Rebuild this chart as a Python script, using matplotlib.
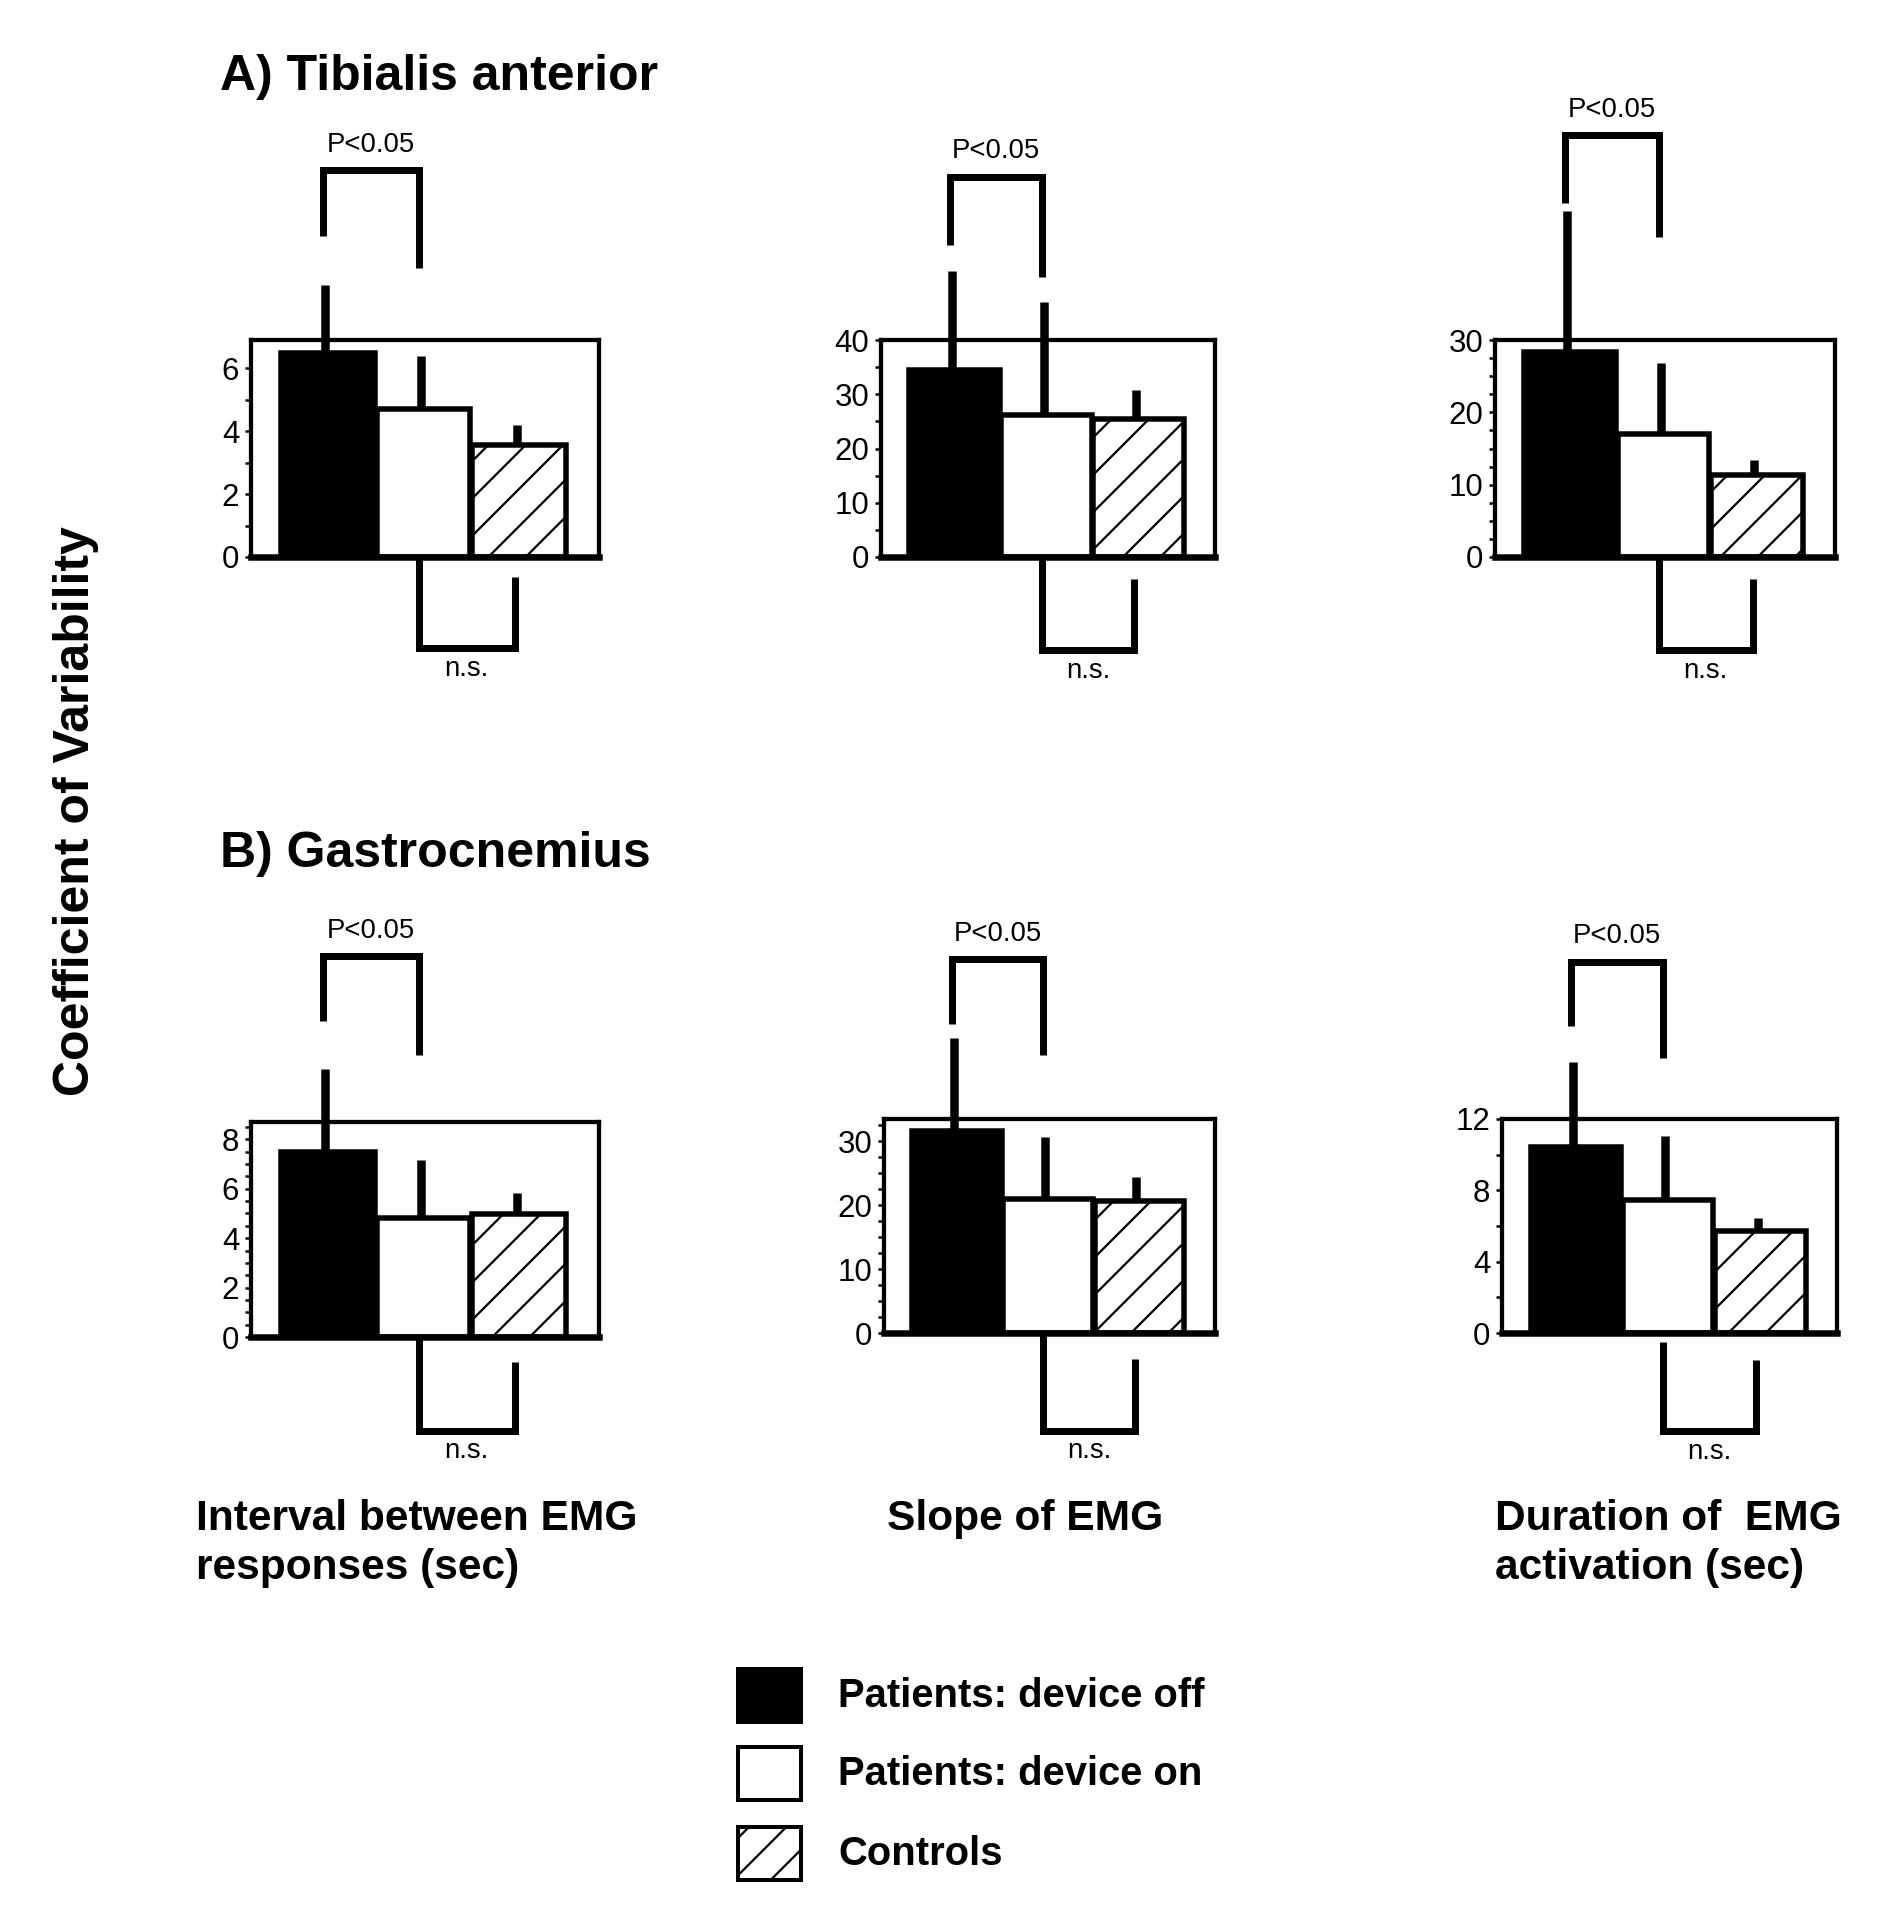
import matplotlib.pyplot as plt
from matplotlib.patches import Rectangle
from matplotlib.ticker import MultipleLocator
import numpy as np

DPI = 224
S = 180 / DPI   # sizes below were tuned at 180 dpi

plt.rcParams['font.family'] = ['Liberation Sans', 'DejaVu Sans']
plt.rcParams['hatch.linewidth'] = 0.9 * S

groups = ['Patients: device off', 'Patients: device on', 'Controls']
measures = ['Interval between EMG\nresponses (sec)', 'Slope of EMG',
            'Duration of  EMG\nactivation (sec)']

# coefficient of variability, mean and upward error
ta_interval = [6.5, 4.7, 3.55]
ta_interval_err = [2.15, 1.7, 0.65]
ta_slope = [34.5, 26.2, 25.4]
ta_slope_err = [18.2, 20.9, 5.3]
ta_duration = [28.4, 17.0, 11.4]
ta_duration_err = [19.4, 9.8, 2.0]

gc_interval = [7.47, 4.8, 4.96]
gc_interval_err = [3.37, 2.37, 0.88]
gc_slope = [31.6, 21.0, 20.6]
gc_slope_err = [14.6, 9.6, 3.8]
gc_duration = [10.44, 7.48, 5.74]
gc_duration_err = [4.76, 3.56, 0.7]

# panel layout: axes rect, y max, major / minor tick step,
# P bracket (top, left end, right end), n.s. bracket (bottom, left end, right end)
panels = [
    (ta_interval, ta_interval_err, [0.1328, 0.7096, 0.1841, 0.1131], 6.9, 2, 1,
     (12.3, 10.2, 9.2), (-2.9, 0, -0.63)),
    (ta_slope, ta_slope_err, [0.4661, 0.7096, 0.1767, 0.1131], 40, 10, 5,
     (70.1, 57.6, 51.7), (-17.2, 0, -4.1)),
    (ta_duration, ta_duration_err, [0.7910, 0.7096, 0.1799, 0.1131], 30, 10, 2.5,
     (58.3, 49.0, 44.3), (-12.9, 0, -3.05)),
    (gc_interval, gc_interval_err, [0.1328, 0.3029, 0.1841, 0.1121], 8.7, 2, 0.5,
     (15.4, 12.8, 11.4), (-3.8, 0, -1.0)),
    (gc_slope, gc_slope_err, [0.4677, 0.3050, 0.1751, 0.1116], 33.5, 10, 2.5,
     (58.5, 48.4, 43.5), (-15.3, 0, -4.1)),
    (gc_duration, gc_duration_err, [0.7947, 0.3050, 0.1772, 0.1116], 12, 4, 2,
     (20.8, 17.2, 15.4), (-5.5, -0.5, -1.5)),
]

fig = plt.figure(figsize=(1890 / DPI, 1918 / DPI), dpi=DPI)

x = np.arange(3)
for means, errs, rect, ymax, major, minor, pbr, nsbr in panels:
    ax = fig.add_axes(rect)
    means = np.array(means)
    errs = np.array(errs)
    bars = ax.bar(x, means, width=0.98, color=['black', 'white', 'white'],
                  edgecolor='black', linewidth=2.2 * S, zorder=2)
    bars[2].set_hatch('//')
    ax.vlines(x - 0.03, means, means + errs, color='black', lw=3.4 * S,
              clip_on=False, zorder=3)
    ax.set_xlim(-0.8, 2.83)
    ax.set_ylim(0, ymax)
    ax.set_xticks([])
    ax.yaxis.set_major_locator(MultipleLocator(major))
    ax.yaxis.set_minor_locator(MultipleLocator(minor))
    ax.tick_params(axis='y', which='both', length=2.2 * S, width=1.0 * S,
                   pad=2.5 * S, labelsize=12.5 * S)
    for sp in ax.spines.values():
        sp.set_linewidth(1.7 * S)
    ax.spines['bottom'].set_linewidth(2.6 * S)

    kw = dict(color='black', lw=2.8 * S, clip_on=False, solid_capstyle='butt',
              solid_joinstyle='miter')
    ax.plot([-0.05, -0.05, 0.95, 0.95], [pbr[1], pbr[0], pbr[0], pbr[2]], **kw)
    ax.annotate('P<0.05', xy=(0.45, pbr[0]), xytext=(0, 5 * S),
                textcoords='offset points', ha='center', va='bottom',
                fontsize=11 * S, annotation_clip=False)
    ax.plot([0.95, 0.95, 1.95, 1.95], [nsbr[1], nsbr[0], nsbr[0], nsbr[2]], **kw)
    ax.annotate('n.s.', xy=(1.45, nsbr[0]), xytext=(0, -3 * S),
                textcoords='offset points', ha='center', va='top',
                fontsize=11 * S, annotation_clip=False)

fig.text(0.1164, 0.960, 'A) Tibialis anterior', fontsize=20 * S,
         fontweight='bold', va='center')
fig.text(0.1164, 0.555, 'B) Gastrocnemius', fontsize=20 * S,
         fontweight='bold', va='center')
fig.text(0.040, 0.577, 'Coefficient of Variability', fontsize=20 * S,
         fontweight='bold', rotation=90, ha='center', va='center')

for xpos, label in zip([0.1037, 0.4693, 0.791], measures):
    fig.text(xpos, 0.2185, label, fontsize=17 * S, fontweight='bold',
             va='top', linespacing=1.3)

# legend
faces = ['black', 'white', 'white']
hatches = ['', '', '//']
box_bottoms = [0.1022, 0.0615, 0.0198]
for name, fc, h, yb in zip(groups, faces, hatches, box_bottoms):
    fig.add_artist(Rectangle((0.3905, yb), 0.0333, 0.0275, facecolor=fc,
                             edgecolor='black', lw=1.6 * S, hatch=h,
                             transform=fig.transFigure))
    fig.text(0.4434, yb + 0.0135, name, fontsize=16 * S, fontweight='bold',
             va='center')

fig.savefig('out.png', dpi=DPI, facecolor='white')
